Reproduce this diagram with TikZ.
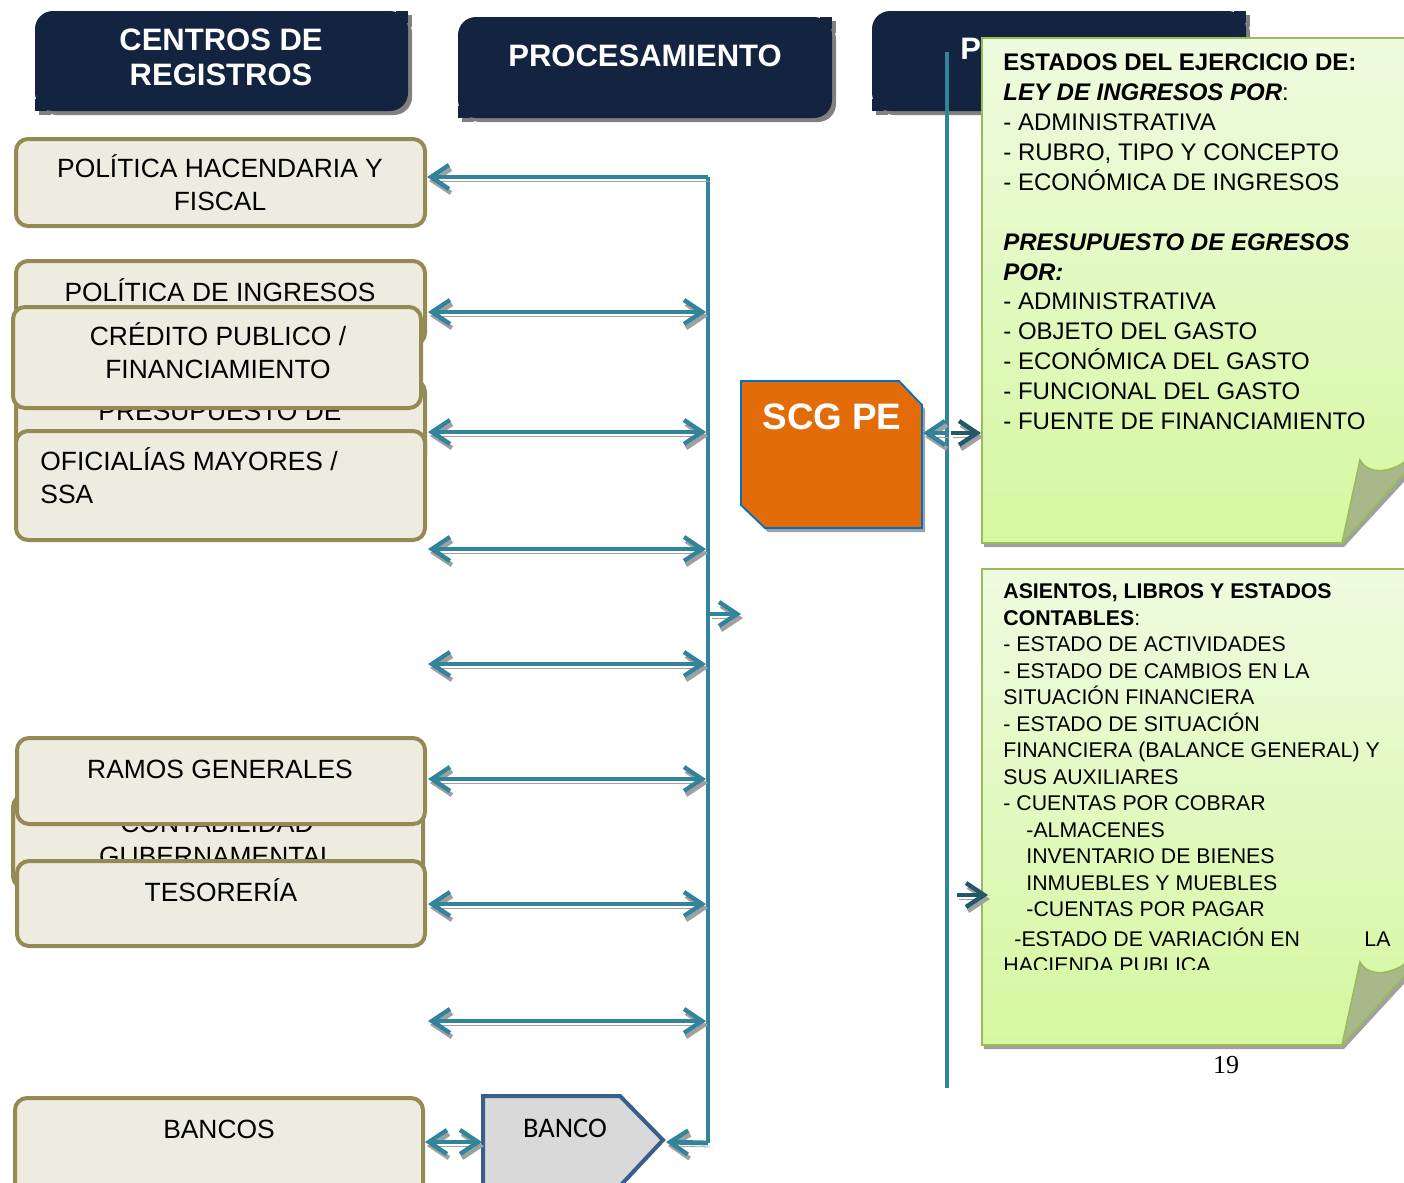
\documentclass[tikz,border=0pt]{standalone}
\usepackage{fontspec}
\setmainfont{Liberation Sans}
\newfontfamily\carlito{Carlito}
\newfontfamily\serifnum{Liberation Serif}
\usetikzlibrary{arrows.meta}

\definecolor{navy}{HTML}{132440}
\definecolor{tealc}{HTML}{31849B}
\definecolor{darkteal}{HTML}{215968}
\definecolor{olivec}{HTML}{948A54}
\definecolor{creamc}{HTML}{EEECE1}
\definecolor{orangec}{HTML}{E36C09}
\definecolor{bluec}{HTML}{0070C0}
\definecolor{greenb}{HTML}{9BBB59}
\definecolor{notetop}{HTML}{EEFBE0}
\definecolor{notebot}{HTML}{D6F7A0}
\definecolor{flapc}{HTML}{A8B88A}
\definecolor{shadc}{HTML}{A0A0A0}
\definecolor{hshad}{HTML}{808080}
\definecolor{bancof}{HTML}{D9D9D9}
\definecolor{bancob}{HTML}{3A5E8C}

% header box: rounded top-left and bottom-right corners, square others
\newcommand\hdrshape[5]{%
  \fill[#5, rounded corners=9pt] (#1,#2) rectangle (#3,#4);
  \fill[#5] ({#3-12},#2) rectangle (#3,{#2+12});
  \fill[#5] (#1,{#4-12}) rectangle ({#1+12},#4);}
\newcommand\hdrbox[4]{%
  \hdrshape{#1+4}{#2+4}{#3+4}{#4+4}{hshad}%
  \hdrshape{#1}{#2}{#3}{#4}{navy}}

\newcommand\notebox[2]{%
  \fill[shadc] (984,{#1+4}) -- (1424,{#1+4}) -- (1424,{#2-83}) -- (1344,{#2+4}) -- (984,{#2+4}) -- cycle;
  \shadedraw[top color=notetop, bottom color=notebot, draw=greenb, line width=0.8pt] (982,#1) -- (1420,#1) -- (1420,{#2-87}) -- (1342,#2) -- (982,#2) -- cycle;
  \filldraw[fill=flapc, draw=greenb, line width=0.8pt] (1342,#2) -- (1360,{#2-83}) .. controls (1368,{#2-68}) and (1390,{#2-70}) .. (1406,{#2-82}) -- (1420,{#2-92}) -- (1420,{#2-87}) -- cycle;}

\begin{document}
\begin{tikzpicture}[x=0.5pt, y=-0.5pt,
  >={Straight Barb[length=9pt,width=12pt,line width=2.2pt]},
  lbox/.style={draw=olivec, fill=creamc, line width=2pt, rounded corners=6pt, inner sep=0pt},
  lbl/.style={font=\fontsize{13.2}{16.5}\selectfont, align=center, inner sep=0pt, anchor=base},
  hdr/.style={font=\bfseries\fontsize{15.5}{17.5}\selectfont, text=white, align=center, inner sep=0pt, anchor=base},
  arr/.style={draw=tealc, line width=2.4pt, preaction={draw=shadc, transform canvas={shift={(2,4)}}}},
  darr/.style={draw=darkteal, line width=2.4pt, preaction={draw=shadc, transform canvas={shift={(2,4)}}}},
  vline/.style={draw=tealc, line width=2.4pt}
]
\useasboundingbox (0,0) rectangle (1404,1183);
\clip (0,0) rectangle (1404,1183);

% headers
\hdrbox{35}{11}{408}{111}
\hdrbox{458}{17}{832}{118}
\hdrbox{872}{11}{1246}{111}
\node[hdr] (h1) at (221,85.1) {CENTROS DE\\REGISTROS};
\node[hdr] (h2) at (645,66) {PROCESAMIENTO};
\node[hdr] (h3) at (1059,60) {PRODUCTOS};

% left boxes
\node[lbox, minimum width=204.5pt, minimum height=43.5pt] (hac) at (220.5,182.5) {};
\node[lbl] (hact) at (220,210.5) {POLÍTICA HACENDARIA Y\\FISCAL};
\node[lbox, minimum width=204.5pt, minimum height=42pt] (pdi) at (220.5,303) {};
\node[lbl] (pdit) at (220,301.5) {POLÍTICA DE INGRESOS};
\node[lbox, minimum width=204.5pt, minimum height=44pt] (pre) at (220.5,424) {};
\node[lbl] (pret) at (220,420.5) {PRESUPUESTO DE};
\node[lbox, minimum width=204pt, minimum height=50.5pt] (cre) at (217,357.5) {};
\node[lbl] (cret) at (218,378.5) {CRÉDITO PUBLICO /\\FINANCIAMIENTO};
\node[lbox, minimum width=204.5pt, minimum height=54.5pt] (ofi) at (220.5,485.5) {};
\node[lbl, align=left, anchor=base west] (ofit) at (40,503.5) {OFICIALÍAS MAYORES /\\SSA};

\node[lbox, minimum width=205pt, minimum height=46.5pt] (con) at (218,841.5) {};
\node[lbl] (cont) at (217,865) {CONTABILIDAD\\GUBERNAMENTAL};
\node[lbox, minimum width=204pt, minimum height=43pt] (ram) at (221,781) {};
\node[lbl] (ramt) at (220,778.5) {RAMOS GENERALES};
\node[lbox, minimum width=204pt, minimum height=42.5pt] (tes) at (221,903.5) {};
\node[lbl] (test) at (221,901.5) {TESORERÍA};
\node[lbox, minimum width=204pt, minimum height=51pt] (bcs) at (219,1149) {};
\node[lbl] (bcst) at (219,1138.5) {BANCOS};

% SCG PE
\fill[shadc] (744,385) -- (902,385) -- (925,409) -- (925,532) -- (768,532) -- (744,509) -- cycle;
\filldraw[fill=orangec, draw=bluec, line width=0.9pt] (741,381) -- (899,381) -- (922,405) -- (922,528) -- (765,528) -- (741,505) -- cycle;
\node[font=\bfseries\fontsize{18.4}{20}\selectfont, text=white, inner sep=0pt, anchor=base] (scg) at (832,429) {SCG PE};
\coordinate (scgE) at (923,433);

% BANCO
\filldraw[fill=bancof, draw=bancob, line width=2pt] (483,1096) -- (620,1096) -- (663,1140) -- (620,1186) -- (483,1186) -- cycle;
\node[font=\carlito\fontsize{14.2}{16}\selectfont, inner sep=0pt, anchor=base] (bco) at (565,1137) {BANCO};
\coordinate (bcoE) at (666,1142);
\coordinate (bcoW) at (482,1142);

% processing line and arrows
\coordinate (vtop) at (708,177);
\coordinate (vbot) at (708,1143);
\draw[vline] (vtop) -- (vbot);
\draw[arr, ->] (vtop) -- (hac.east |- vtop);
\draw[arr, ->] (vbot) -- (bcoE);
\draw[arr, <->] (bcs.east |- bcoW) -- (bcoW);
\foreach \yy/\nm in {312/a1, 432/a2, 549/a3, 664/a4, 779/a5, 904/a6, 1021/a7}{
  \coordinate (\nm L) at (428,\yy);
  \coordinate (\nm R) at (706,\yy);
  \draw[arr, <->] (\nm L) -- (\nm R);
}
\coordinate (smS) at (710,614);
\coordinate (smE) at (741,614);
\draw[arr, ->] (smS) -- (smE);

% products line
\coordinate (p2top) at (947,52);
\coordinate (p2bot) at (947,1088);
\draw[vline, line width=2.2pt] (p2top) -- (p2bot);

% notes
\notebox{38}{543}
\notebox{569}{1045}
\node[font=\fontsize{12}{14.95}\selectfont, align=left, inner sep=0pt, anchor=base west] (n1) at (1003,429.5) {%
\textbf{ESTADOS DEL EJERCICIO DE:}\\
\textbf{\textit{LEY DE INGRESOS POR}}:\\
- ADMINISTRATIVA\\
- RUBRO, TIPO Y CONCEPTO\\
- ECONÓMICA DE INGRESOS\\
\mbox{}\\
\textbf{\textit{PRESUPUESTO DE EGRESOS}}\\
\textbf{\textit{POR:}}\\
- ADMINISTRATIVA\\
- OBJETO DEL GASTO\\
- ECONÓMICA DEL GASTO\\
- FUNCIONAL DEL GASTO\\
- FUENTE DE FINANCIAMIENTO};
\begin{scope}
\clip (980,560) rectangle (1410,969);
\node[font=\fontsize{10.65}{13.25}\selectfont, align=left, inner sep=0pt, anchor=base west] (n2) at (1003,972.6) {%
\textbf{ASIENTOS, LIBROS Y ESTADOS}\\
\textbf{CONTABLES}:\\
- ESTADO DE ACTIVIDADES\\
- ESTADO DE CAMBIOS EN LA\\
SITUACIÓN FINANCIERA\\
- ESTADO DE SITUACIÓN\\
FINANCIERA (BALANCE GENERAL) Y\\
SUS AUXILIARES\\
- CUENTAS POR COBRAR\\
\hspace*{11.5pt}-ALMACENES\\
\hspace*{11.5pt}INVENTARIO DE BIENES\\
\hspace*{11.5pt}INMUEBLES Y MUEBLES\\
\hspace*{11.5pt}-CUENTAS POR PAGAR\\[1.5pt]
\rlap{\hspace*{180.5pt}LA}\hspace*{5.5pt}-ESTADO DE VARIACIÓN EN\\
HACIENDA PUBLICA};
\end{scope}

% arrows to products
\coordinate (j1) at (947,433);
\coordinate (j1b) at (951,433);
\coordinate (n1W) at (981,433);
\draw[arr, ->] (j1) -- (scgE);
\draw[darr, ->] (j1b) -- (n1W);
\coordinate (j2) at (957,895);
\coordinate (n2W) at (988,895);
\draw[darr, ->] (j2) -- (n2W);

% page number
\node[font=\serifnum\fontsize{13}{15}\selectfont, inner sep=0pt, anchor=base] (pg) at (1226,1073) {19};
\end{tikzpicture}
\end{document}
